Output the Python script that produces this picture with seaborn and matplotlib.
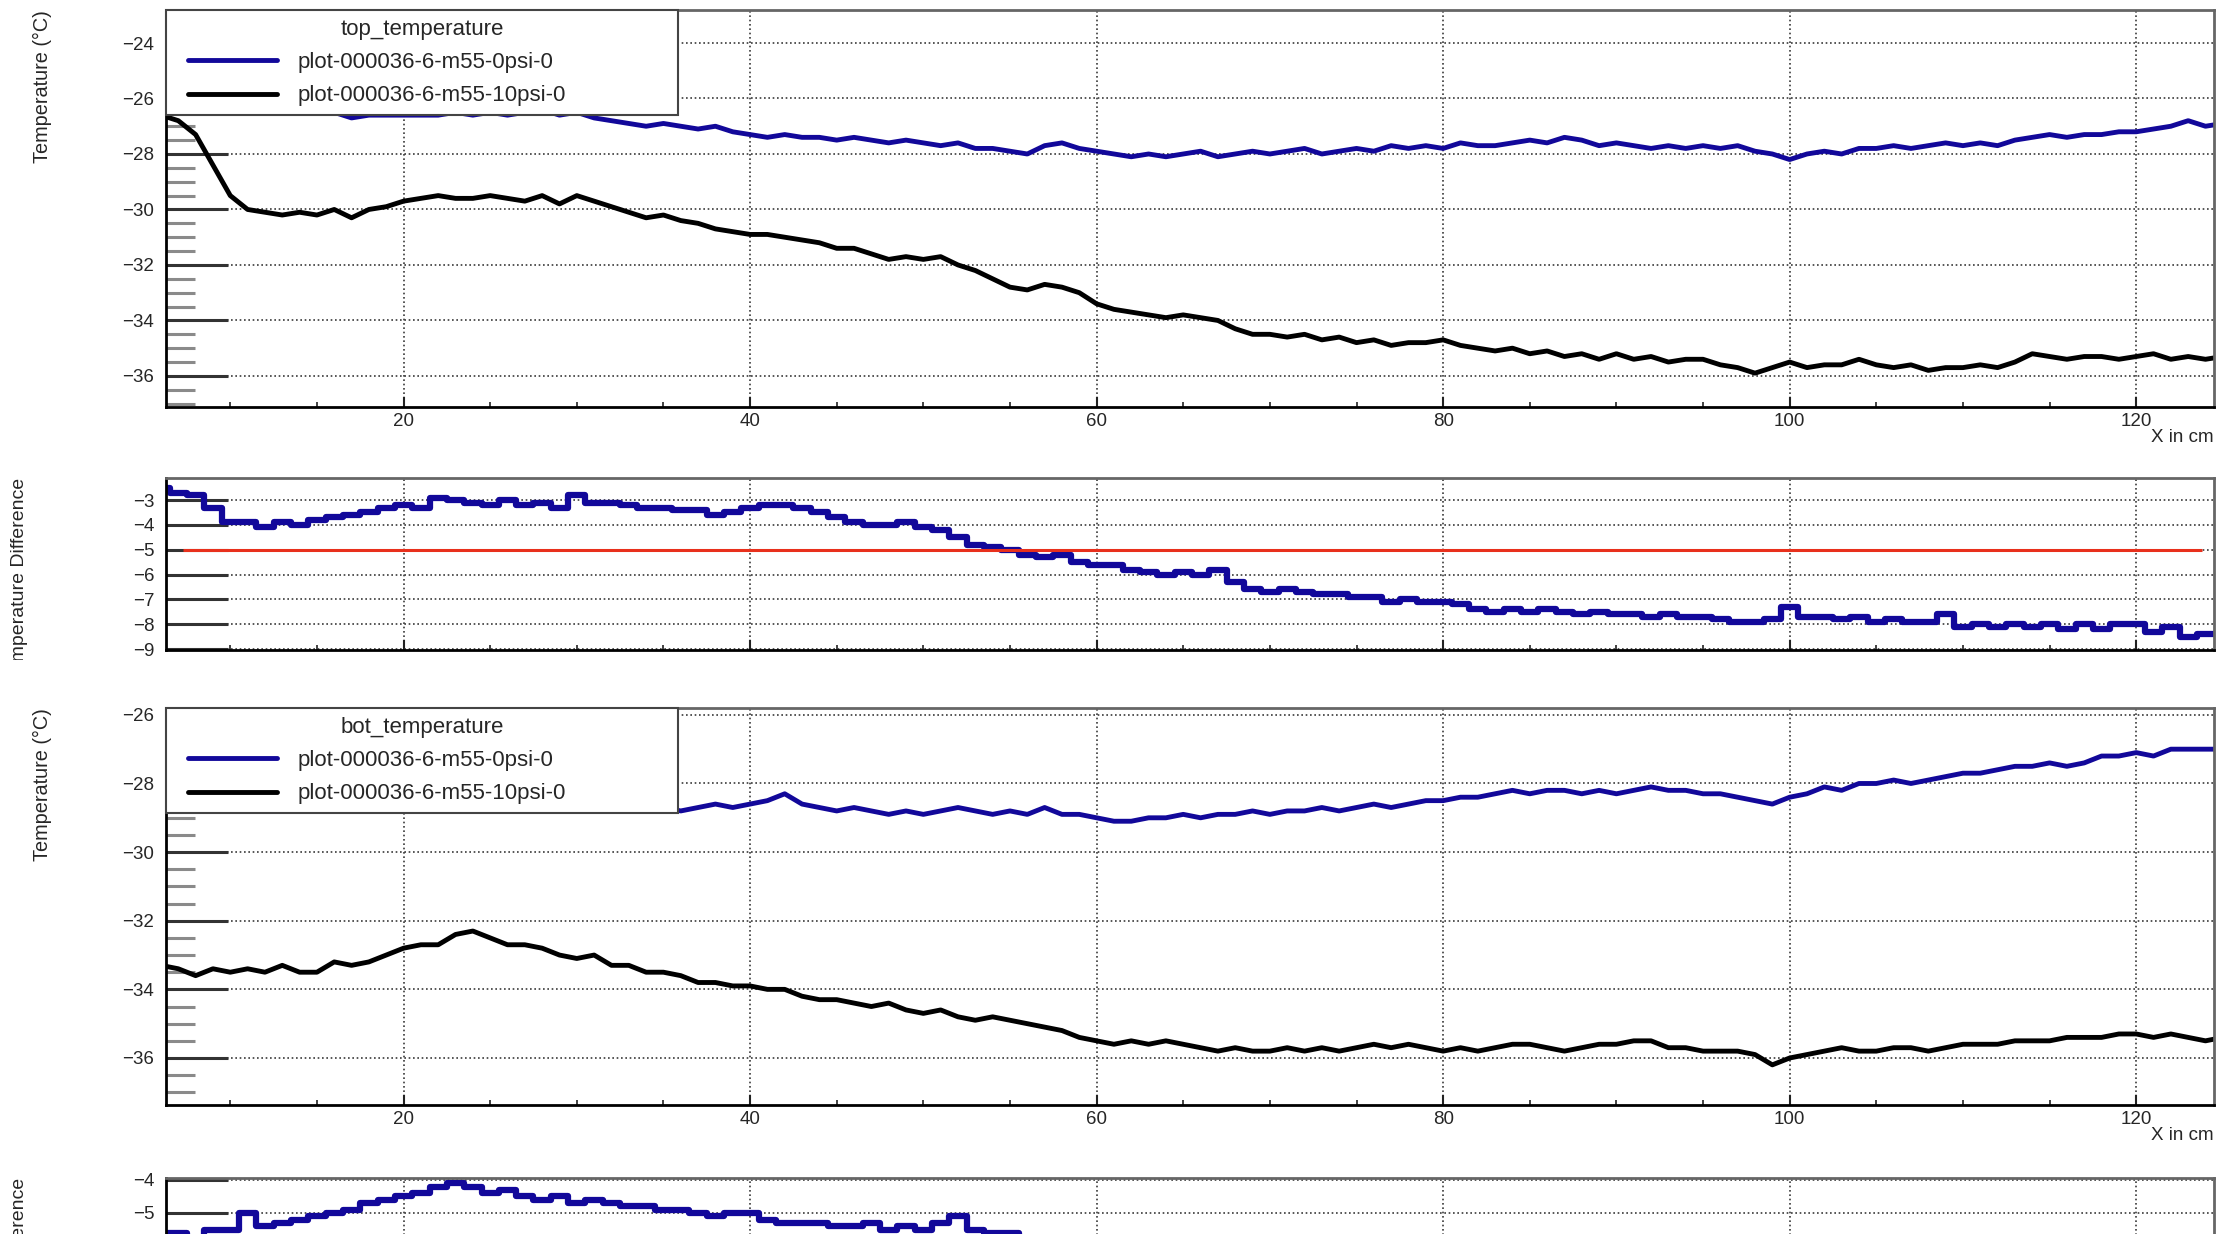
import matplotlib
matplotlib.use("Agg")
import matplotlib.pyplot as plt
import seaborn as sns
from matplotlib.lines import Line2D
from matplotlib.legend_handler import HandlerLine2D
from matplotlib.ticker import MultipleLocator
from matplotlib.transforms import Bbox, TransformedBbox

# position along the module (cm), one sample per cm
x_cm = list(range(6, 126))

top_0psi = [
    -24.0, -24.1, -24.4, -25.0, -25.6, -26.0, -26.1, -26.2, -26.2, -26.4,
    -26.5, -26.7, -26.6, -26.6, -26.6, -26.6, -26.6, -26.5, -26.6, -26.5,
    -26.6, -26.5, -26.4, -26.6, -26.5, -26.7, -26.8, -26.9, -27.0, -26.9,
    -27.0, -27.1, -27.0, -27.2, -27.3, -27.4, -27.3, -27.4, -27.4, -27.5,
    -27.4, -27.5, -27.6, -27.5, -27.6, -27.7, -27.6, -27.8, -27.8, -27.9,
    -28.0, -27.7, -27.6, -27.8, -27.9, -28.0, -28.1, -28.0, -28.1, -28.0,
    -27.9, -28.1, -28.0, -27.9, -28.0, -27.9, -27.8, -28.0, -27.9, -27.8,
    -27.9, -27.7, -27.8, -27.7, -27.8, -27.6, -27.7, -27.7, -27.6, -27.5,
    -27.6, -27.4, -27.5, -27.7, -27.6, -27.7, -27.8, -27.7, -27.8, -27.7,
    -27.8, -27.7, -27.9, -28.0, -28.2, -28.0, -27.9, -28.0, -27.8, -27.8,
    -27.7, -27.8, -27.7, -27.6, -27.7, -27.6, -27.7, -27.5, -27.4, -27.3,
    -27.4, -27.3, -27.3, -27.2, -27.2, -27.1, -27.0, -26.8, -27.0, -26.9,
]
top_10psi = [
    -26.6, -26.8, -27.3, -28.4, -29.5, -30.0, -30.1, -30.2, -30.1, -30.2,
    -30.0, -30.3, -30.0, -29.9, -29.7, -29.6, -29.5, -29.6, -29.6, -29.5,
    -29.6, -29.7, -29.5, -29.8, -29.5, -29.7, -29.9, -30.1, -30.3, -30.2,
    -30.4, -30.5, -30.7, -30.8, -30.9, -30.9, -31.0, -31.1, -31.2, -31.4,
    -31.4, -31.6, -31.8, -31.7, -31.8, -31.7, -32.0, -32.2, -32.5, -32.8,
    -32.9, -32.7, -32.8, -33.0, -33.4, -33.6, -33.7, -33.8, -33.9, -33.8,
    -33.9, -34.0, -34.3, -34.5, -34.5, -34.6, -34.5, -34.7, -34.6, -34.8,
    -34.7, -34.9, -34.8, -34.8, -34.7, -34.9, -35.0, -35.1, -35.0, -35.2,
    -35.1, -35.3, -35.2, -35.4, -35.2, -35.4, -35.3, -35.5, -35.4, -35.4,
    -35.6, -35.7, -35.9, -35.7, -35.5, -35.7, -35.6, -35.6, -35.4, -35.6,
    -35.7, -35.6, -35.8, -35.7, -35.7, -35.6, -35.7, -35.5, -35.2, -35.3,
    -35.4, -35.3, -35.3, -35.4, -35.3, -35.2, -35.4, -35.3, -35.4, -35.3,
]
top_diff = [
    -2.5, -2.7, -2.8, -3.3, -3.9, -3.9, -4.1, -3.9, -4.0, -3.8,
    -3.7, -3.6, -3.5, -3.3, -3.2, -3.3, -2.9, -3.0, -3.1, -3.2,
    -3.0, -3.2, -3.1, -3.3, -2.8, -3.1, -3.1, -3.2, -3.3, -3.3,
    -3.4, -3.4, -3.6, -3.5, -3.3, -3.2, -3.2, -3.3, -3.5, -3.7,
    -3.9, -4.0, -4.0, -3.9, -4.1, -4.2, -4.5, -4.8, -4.9, -5.0,
    -5.2, -5.3, -5.2, -5.5, -5.6, -5.6, -5.8, -5.9, -6.0, -5.9,
    -6.0, -5.8, -6.3, -6.6, -6.7, -6.6, -6.7, -6.8, -6.8, -6.9,
    -6.9, -7.1, -7.0, -7.1, -7.1, -7.2, -7.4, -7.5, -7.4, -7.5,
    -7.4, -7.5, -7.6, -7.5, -7.6, -7.6, -7.7, -7.6, -7.7, -7.7,
    -7.8, -7.9, -7.9, -7.8, -7.3, -7.7, -7.7, -7.8, -7.7, -7.9,
    -7.8, -7.9, -7.9, -7.6, -8.1, -8.0, -8.1, -8.0, -8.1, -8.0,
    -8.2, -8.0, -8.2, -8.0, -8.0, -8.3, -8.1, -8.5, -8.4, -8.4,
]
bot_0psi = [
    -27.8, -27.9, -28.0, -28.0, -28.1, -28.2, -28.3, -28.2, -28.3, -28.5,
    -28.4, -28.5, -28.5, -28.4, -28.4, -28.5, -28.6, -28.4, -28.5, -28.5,
    -28.6, -28.5, -28.6, -28.5, -28.6, -28.6, -28.7, -28.6, -28.8, -28.7,
    -28.8, -28.7, -28.6, -28.7, -28.6, -28.5, -28.3, -28.6, -28.7, -28.8,
    -28.7, -28.8, -28.9, -28.8, -28.9, -28.8, -28.7, -28.8, -28.9, -28.8,
    -28.9, -28.7, -28.9, -28.9, -29.0, -29.1, -29.1, -29.0, -29.0, -28.9,
    -29.0, -28.9, -28.9, -28.8, -28.9, -28.8, -28.8, -28.7, -28.8, -28.7,
    -28.6, -28.7, -28.6, -28.5, -28.5, -28.4, -28.4, -28.3, -28.2, -28.3,
    -28.2, -28.2, -28.3, -28.2, -28.3, -28.2, -28.1, -28.2, -28.2, -28.3,
    -28.3, -28.4, -28.5, -28.6, -28.4, -28.3, -28.1, -28.2, -28.0, -28.0,
    -27.9, -28.0, -27.9, -27.8, -27.7, -27.7, -27.6, -27.5, -27.5, -27.4,
    -27.5, -27.4, -27.2, -27.2, -27.1, -27.2, -27.0, -27.0, -27.0, -27.0,
]
bot_10psi = [
    -33.3, -33.4, -33.6, -33.4, -33.5, -33.4, -33.5, -33.3, -33.5, -33.5,
    -33.2, -33.3, -33.2, -33.0, -32.8, -32.7, -32.7, -32.4, -32.3, -32.5,
    -32.7, -32.7, -32.8, -33.0, -33.1, -33.0, -33.3, -33.3, -33.5, -33.5,
    -33.6, -33.8, -33.8, -33.9, -33.9, -34.0, -34.0, -34.2, -34.3, -34.3,
    -34.4, -34.5, -34.4, -34.6, -34.7, -34.6, -34.8, -34.9, -34.8, -34.9,
    -35.0, -35.1, -35.2, -35.4, -35.5, -35.6, -35.5, -35.6, -35.5, -35.6,
    -35.7, -35.8, -35.7, -35.8, -35.8, -35.7, -35.8, -35.7, -35.8, -35.7,
    -35.6, -35.7, -35.6, -35.7, -35.8, -35.7, -35.8, -35.7, -35.6, -35.6,
    -35.7, -35.8, -35.7, -35.6, -35.6, -35.5, -35.5, -35.7, -35.7, -35.8,
    -35.8, -35.8, -35.9, -36.2, -36.0, -35.9, -35.8, -35.7, -35.8, -35.8,
    -35.7, -35.7, -35.8, -35.7, -35.6, -35.6, -35.6, -35.5, -35.5, -35.5,
    -35.4, -35.4, -35.4, -35.3, -35.3, -35.4, -35.3, -35.4, -35.5, -35.4,
]
bot_diff = [
    -5.6, -5.6, -5.7, -5.5, -5.5, -5.0, -5.4, -5.3, -5.2, -5.1,
    -5.0, -4.9, -4.7, -4.6, -4.5, -4.4, -4.2, -4.1, -4.2, -4.4,
    -4.3, -4.5, -4.6, -4.5, -4.7, -4.6, -4.7, -4.8, -4.8, -4.9,
    -4.9, -5.0, -5.1, -5.0, -5.0, -5.2, -5.3, -5.3, -5.3, -5.4,
    -5.4, -5.3, -5.5, -5.4, -5.5, -5.3, -5.1, -5.5, -5.6, -5.6,
    -5.7, -5.8, -5.9, -6.0, -6.2, -6.4, -6.4, -6.5, -6.6, -6.6,
    -6.7, -6.8, -6.8, -6.9, -6.9, -6.9, -7.0, -7.0, -7.0, -7.0,
    -7.0, -7.0, -7.0, -7.2, -7.3, -7.3, -7.4, -7.4, -7.4, -7.3,
    -7.5, -7.6, -7.4, -7.4, -7.3, -7.3, -7.4, -7.5, -7.5, -7.5,
    -7.5, -7.4, -7.4, -7.6, -7.6, -7.6, -7.7, -7.5, -7.8, -7.8,
    -7.8, -7.7, -7.9, -7.9, -7.9, -7.9, -8.0, -8.0, -8.0, -8.1,
    -7.9, -8.0, -8.2, -8.1, -8.2, -8.2, -8.3, -8.4, -8.5, -8.4,
]

series_names = ["plot-000036-6-m55-0psi-0", "plot-000036-6-m55-10psi-0"]
diff_limit = -5.0
diff_limit_span = [7.3, 123.8]

BLUE = "#12089a"
BLACK = "#000000"
RED = "#e8301c"
W, H = 2217, 1234
X_RANGE = (6.29, 124.49)

sns.set_theme(style="white")
plt.rcParams["font.family"] = ["Liberation Sans", "DejaVu Sans"]
plt.rcParams["axes.unicode_minus"] = True

fig = plt.figure(figsize=(W / 100, H / 100), dpi=100)
fig.patch.set_facecolor("white")


def add_panel(top_px, bottom_px):
    return fig.add_axes([166 / W, 1 - bottom_px / H,
                         (2214 - 166) / W, (bottom_px - top_px) / H])


def style_panel(ax, ylim, ymajor, yminor=None, xlabels=True):
    ax.set_xlim(*X_RANGE)
    ax.set_ylim(*ylim)
    ax.xaxis.set_major_locator(MultipleLocator(20))
    ax.xaxis.set_minor_locator(MultipleLocator(5))
    ax.yaxis.set_major_locator(MultipleLocator(ymajor))
    if yminor:
        ax.yaxis.set_minor_locator(MultipleLocator(yminor))
    ax.grid(True, which="major", linestyle=(0, (1, 1.6)), color="#3a3a3a", linewidth=1.2)
    ax.tick_params(axis="y", which="major", direction="in", length=44.6, width=2.2,
                   color="#333333", pad=8.5, labelsize=13.5, left=True)
    ax.tick_params(axis="y", which="minor", direction="in", length=21, width=2.2,
                   color="#8a8a8a", left=True)
    ax.tick_params(axis="x", which="major", direction="in", length=7, width=1.5,
                   color="#222222", pad=4, labelsize=13.5, bottom=True,
                   labelbottom=xlabels)
    ax.tick_params(axis="x", which="minor", direction="in", length=3.5, width=1.2,
                   color="#222222", bottom=True)
    for side in ["left", "bottom"]:
        ax.spines[side].set_color("black")
        ax.spines[side].set_linewidth(2)
    for side in ["top", "right"]:
        ax.spines[side].set_color("#666666")
        ax.spines[side].set_linewidth(2)
    ax.set_ylabel("")
    if xlabels:
        ax.set_xlabel("X in cm", fontsize=13.5, loc="right")
        ax.xaxis.set_label_coords(1.0, -22 / 397)
    else:
        ax.set_xlabel("")


def temperature_panel(ax, blue, black, title):
    sns.lineplot(x=x_cm, y=blue, ax=ax, color=BLUE, linewidth=3.5, label=series_names[0])
    sns.lineplot(x=x_cm, y=black, ax=ax, color=BLACK, linewidth=3.5, label=series_names[1])
    leg = ax.legend(loc="upper left", bbox_to_anchor=(0, 0.751, 0.25, 0.249),
                    mode="expand", borderaxespad=0, title=title, fontsize=16,
                    title_fontsize=16, frameon=True, fancybox=False,
                    edgecolor="#444444", framealpha=1, handlelength=4.6,
                    handletextpad=0.9, borderpad=0.4, labelspacing=0.55,
                    handler_map={Line2D: HandlerLine2D(xpad=0.6)})
    leg.get_frame().set_linewidth(1.5)


def diff_panel(ax, diff):
    sns.lineplot(x=x_cm, y=diff, ax=ax, color=BLUE, linewidth=4.5,
                 drawstyle="steps-mid", legend=False)


ax1 = add_panel(10, 407)
ax2 = add_panel(478, 650)
ax3 = add_panel(708, 1105)
ax4 = add_panel(1178, 1350)

temperature_panel(ax1, top_0psi, top_10psi, "top_temperature")
style_panel(ax1, (-37.12, -22.81), 2, 0.5)

diff_panel(ax2, top_diff)
ax2.hlines(diff_limit, diff_limit_span[0], diff_limit_span[1], color=RED, linewidth=2.2, zorder=3)
style_panel(ax2, (-9.04, -2.11), 1, xlabels=False)

temperature_panel(ax3, bot_0psi, bot_10psi, "bot_temperature")
style_panel(ax3, (-37.37, -25.8), 2, 0.5)

diff_panel(ax4, bot_diff)
style_panel(ax4, (-9.15, -3.94), 1, xlabels=False)

# y titles, aligned to the top of each pad as in ROOT
fig.text(42 / W, 1 - 10 / H, "Temperature (\u00b0C)", rotation=90,
         ha="center", va="top", fontsize=14.3)
fig.text(42 / W, 1 - 708 / H, "Temperature (\u00b0C)", rotation=90,
         ha="center", va="top", fontsize=14.3)
t2 = fig.text(20 / W, 1 - 478 / H, "Temperature Difference", rotation=90,
              ha="center", va="top", fontsize=14)
t2.set_clip_box(TransformedBbox(Bbox([[0, 1 - 660 / H], [1, 1]]), fig.transFigure))
t2.set_clip_on(True)
fig.text(20 / W, 1 - 1178 / H, "Temperature Difference", rotation=90,
         ha="center", va="top", fontsize=14)

fig.savefig("out.png", dpi=100)
